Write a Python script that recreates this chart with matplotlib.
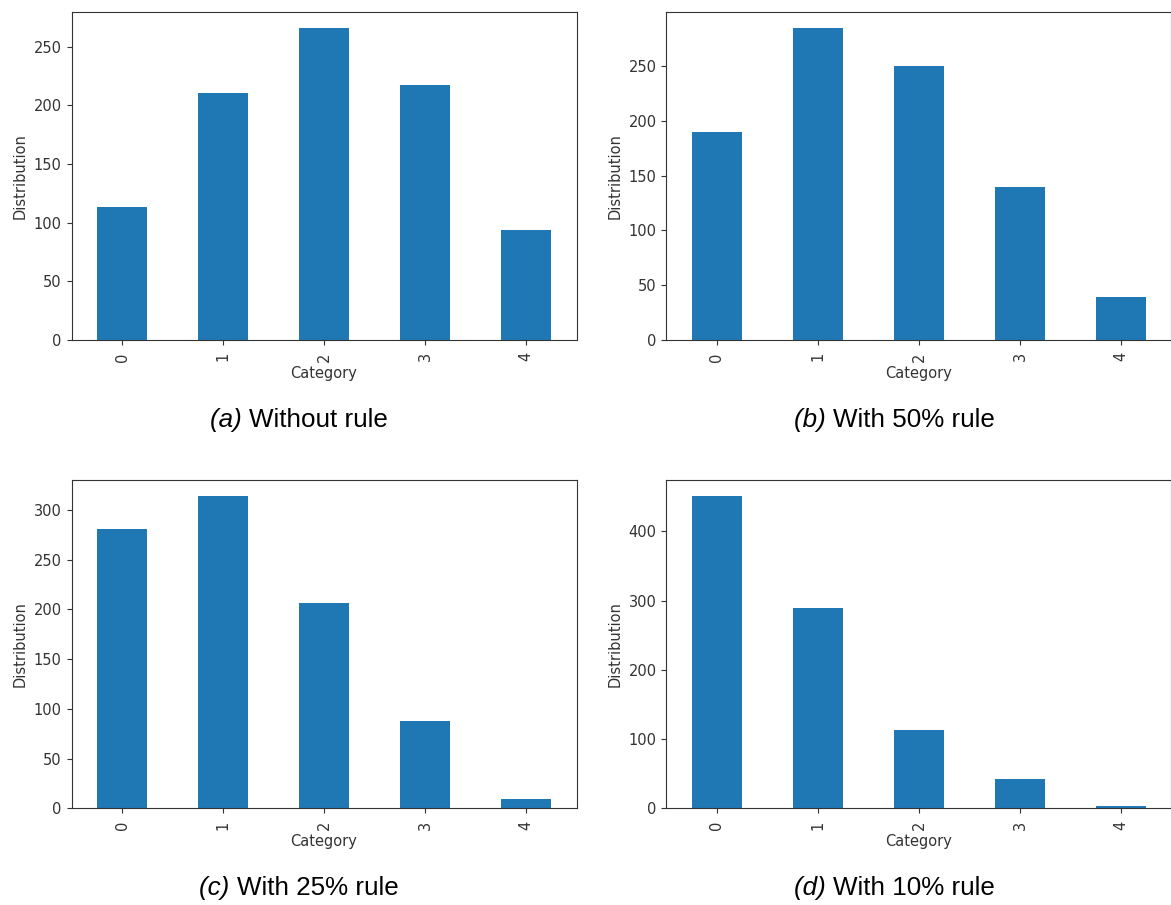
import matplotlib
matplotlib.use('Agg')
import matplotlib.pyplot as plt

# category counts for each rule setting
categories = ['0', '1', '2', '3', '4']
no_rule = [113, 211, 266, 217, 94]
rule_50 = [190, 285, 250, 140, 39]
rule_25 = [281, 314, 206, 88, 9]
rule_10 = [451, 290, 113, 42, 3]

tags = ['(a)', '(b)', '(c)', '(d)']
captions = ['Without rule', 'With 50% rule', 'With 25% rule', 'With 10% rule']

BAR_COLOR = '#1f77b4'
INK = '#333333'

W, H = 1171, 905
fig = plt.figure(figsize=(W / 100, H / 100), dpi=100)

# axes boxes in pixels: left, top, right, bottom
boxes = [(71.5, 12.5, 576.5, 339.7),
         (666.5, 12.5, 1171.5, 339.7),
         (71.5, 480.5, 576.5, 808.3),
         (666.5, 480.5, 1171.5, 808.3)]
caption_y = [420, 420, 888, 888]

series = [no_rule, rule_50, rule_25, rule_10]
for (l, t, r, b), vals in zip(boxes, series):
    ax = fig.add_axes([l / W, 1 - b / H, (r - l) / W, (b - t) / H])
    x = range(len(categories))
    ax.bar(x, vals, width=0.5, color=BAR_COLOR)
    ax.set_xlim(-0.5, len(categories) - 0.5)
    ax.set_ylim(0, max(vals) * 1.05)
    ax.set_xticks(list(x))
    ax.set_xticklabels(categories, rotation=90)
    ax.set_xlabel('Category', fontsize=10.5, color=INK, labelpad=3)
    ax.set_ylabel('Distribution', fontsize=10.5, color=INK)
    ax.tick_params(labelsize=10.5, colors=INK)
    ax.tick_params(axis='x', pad=5.5)
    for sp in ax.spines.values():
        sp.set_color(INK)

# captions: italic tag followed by plain text, centred under each panel
fig.canvas.draw()
renderer = fig.canvas.get_renderer()
cap_font = ['Liberation Sans', 'DejaVu Sans']
for (l, t, r, b), tag, cap, cy in zip(boxes, tags, captions, caption_y):
    cx = (l + r) / 2 - 25
    t1 = fig.text(0, 1 - cy / H, tag + ' ', fontsize=18.7, style='italic',
                  family=cap_font, va='center', ha='left')
    t2 = fig.text(0, 1 - cy / H, cap, fontsize=18.7,
                  family=cap_font, va='center', ha='left')
    w1 = t1.get_window_extent(renderer).width
    w2 = t2.get_window_extent(renderer).width
    x0 = cx - (w1 + w2) / 2
    t1.set_x(x0 / W)
    t2.set_x((x0 + w1) / W)

fig.savefig('out.png', dpi=100)
